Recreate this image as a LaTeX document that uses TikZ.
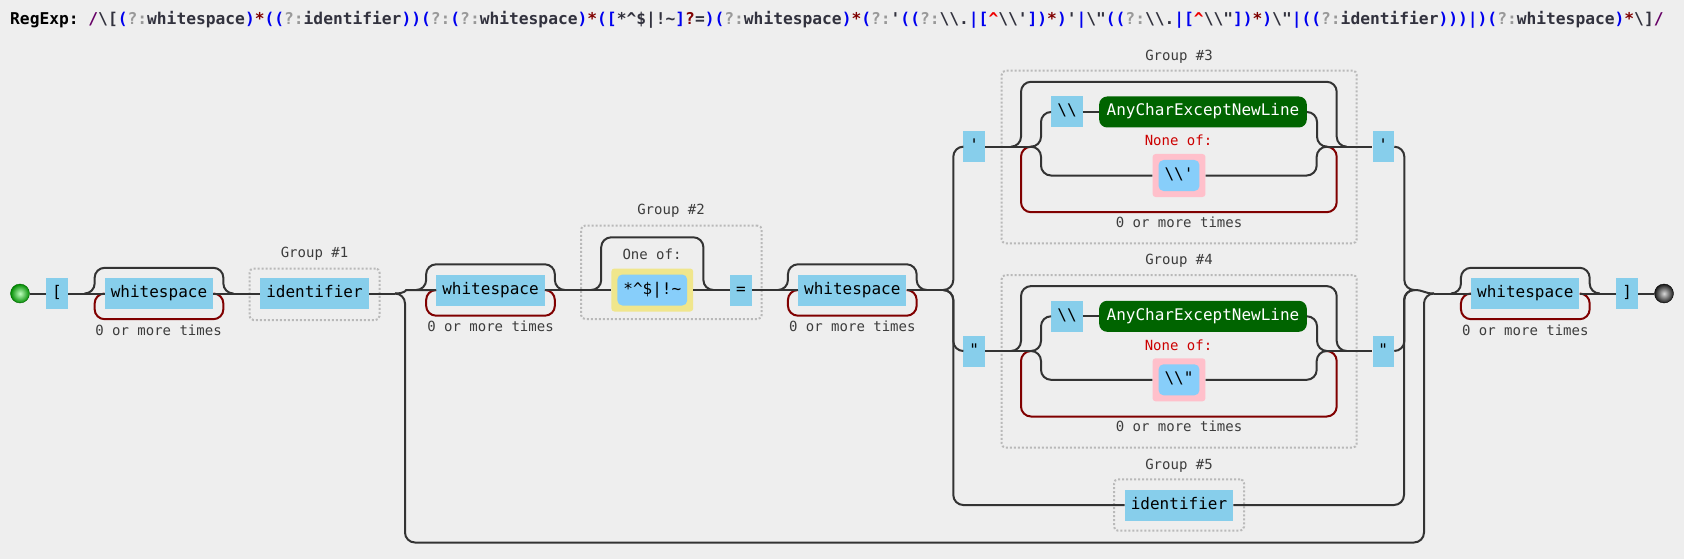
\documentclass[tikz,border=0pt]{standalone}
\usepackage{fontspec}
\setmonofont{DejaVu Sans Mono}
\usetikzlibrary{fit}

\definecolor{canvas}{RGB}{238,238,238}
\definecolor{railcol}{RGB}{51,51,51}
\definecolor{loopcol}{RGB}{128,0,0}
\definecolor{litcol}{RGB}{135,206,235}
\definecolor{setcol}{RGB}{135,206,250}
\definecolor{oneofcol}{RGB}{240,230,140}
\definecolor{noneofcol}{RGB}{255,192,203}
\definecolor{anycol}{RGB}{0,100,0}
\definecolor{grpcol}{RGB}{185,185,185}
\definecolor{lblcol}{RGB}{60,60,60}
\definecolor{nonecol}{RGB}{204,0,0}
\definecolor{rxslash}{RGB}{102,0,102}
\definecolor{rxparen}{RGB}{0,0,238}
\definecolor{rxgray}{RGB}{153,153,153}
\definecolor{rxquant}{RGB}{128,0,0}
\definecolor{rxcaret}{RGB}{238,0,0}
\definecolor{rxtext}{RGB}{50,50,62}

\newcommand\rxS[1]{\textcolor{rxslash}{#1}}
\newcommand\rxP[1]{\textcolor{rxparen}{#1}}
\newcommand\rxN[1]{\textcolor{rxgray}{#1}}
\newcommand\rxQ[1]{\textcolor{rxquant}{#1}}
\newcommand\rxC[1]{\textcolor{rxcaret}{#1}}
\newcommand\rxB{\textbackslash}

\begin{document}
\begin{tikzpicture}[x=1pt, y=-1pt,
    font=\ttfamily\fontsize{16}{19}\selectfont,
    rail/.style={draw=railcol, line width=2pt, rounded corners=10pt},
    backrail/.style={draw=loopcol, line width=2pt, rounded corners=10pt},
    literal/.style={fill=litcol, inner xsep=6pt, inner ysep=0pt, minimum height=31pt,
      text height=11.5pt, text depth=3.5pt},
    anychar/.style={literal, fill=anycol, text=white, rounded corners=8pt, inner xsep=7.5pt},
    setbox/.style={literal, fill=setcol, rounded corners=5pt},
    setback/.style={literal, fill=#1, rounded corners=3pt, inner xsep=12pt, minimum height=43pt},
    groupbox/.style={draw=grpcol, dotted, line width=2pt, rounded corners=4pt, inner sep=0pt},
    small/.style={font=\ttfamily\fontsize{14}{17}\selectfont, text=lblcol, inner sep=0pt,
      text height=10pt, text depth=3pt},
    railend/.style={circle, minimum size=19pt, inner sep=0pt}
  ]
  % Background
  \fill[canvas] (0,0) rectangle (1684,559);

  % Title
  \node[anchor=base west, inner sep=0pt, text=rxtext,
    font=\ttfamily\bfseries\fontsize{16.25}{19}\selectfont] (title) at (10,25) {%
    \textcolor{black}{RegExp:} \rxS{/}\rxB[%
    \rxP{(}\rxN{?:}whitespace\rxP{)}\rxQ{*}%
    \rxP{((}\rxN{?:}identifier\rxP{))}%
    \rxP{(}\rxN{?:}%
    \rxP{(}\rxN{?:}whitespace\rxP{)}\rxQ{*}%
    \rxP{([}*\textasciicircum\$|!\textasciitilde\rxP{]}\rxQ{?}=\rxP{)}%
    \rxP{(}\rxN{?:}whitespace\rxP{)}\rxQ{*}%
    \rxP{(}\rxN{?:}\textquotesingle\rxP{((}\rxN{?:}\rxB\rxB.\rxP{|[}\rxC{\textasciicircum}\rxB\rxB\textquotesingle\rxP{])}\rxQ{*}\rxP{)}\textquotesingle%
    \rxP{|}\rxB"\rxP{((}\rxN{?:}\rxB\rxB.\rxP{|[}\rxC{\textasciicircum}\rxB\rxB"\rxP{])}\rxQ{*}\rxP{)}\rxB"%
    \rxP{|((}\rxN{?:}identifier\rxP{)))|)}%
    \rxP{(}\rxN{?:}whitespace\rxP{)}\rxQ{*}\rxB]\rxS{/}};

  % Boxes on the rail
  \node[railend, draw=green!40!black, inner color=green!25!white, outer color=green!55!black] (start) at (20,293.5) {};
  \node[literal] (lbrack) at (57,293.5) {[};
  \node[literal] (ws1) at (159,293.5) {whitespace};
  \node[literal] (id1) at (314.5,293.5) {identifier};
  \node[literal] (ws2) at (490.5,290) {whitespace};
  \node[setback=oneofcol] (set1bg) at (652.3,290) {\phantom{*\textasciicircum\$|!\textasciitilde}};
  \node[setbox] (set1) at (652.3,290) {*\textasciicircum\$|!\textasciitilde};
  \node[literal] (eq) at (741,290) {=};
  \node[literal] (ws3) at (852.3,290) {whitespace};
  % single quoted string
  \node[literal] (sq1) at (974.3,146.7) {\textquotesingle};
  \node[literal] (esc1) at (1067,112) {\textbackslash\textbackslash};
  \node[anychar] (any1) at (1203,112) {AnyCharExceptNewLine};
  \node[setback=noneofcol] (neg1bg) at (1179,175.5) {\phantom{\textbackslash\textbackslash\textquotesingle}};
  \node[setbox] (neg1) at (1179,175.5) {\textbackslash\textbackslash\textquotesingle};
  \node[literal] (sq2) at (1383.3,146.7) {\textquotesingle};
  % double quoted string
  \node[literal] (dq1) at (974.3,351) {"};
  \node[literal] (esc2) at (1067,316.3) {\textbackslash\textbackslash};
  \node[anychar] (any2) at (1203,316.3) {AnyCharExceptNewLine};
  \node[setback=noneofcol] (neg2bg) at (1179,379.8) {\phantom{\textbackslash\textbackslash"}};
  \node[setbox] (neg2) at (1179,379.8) {\textbackslash\textbackslash"};
  \node[literal] (dq2) at (1383.3,351) {"};
  % bare identifier
  \node[literal] (id2) at (1179,505) {identifier};
  \node[literal] (ws4) at (1525.3,293.5) {whitespace};
  \node[literal] (rbrack) at (1627.2,293.5) {]};
  \node[railend, draw=black, inner color=gray!30!white, outer color=black!90] (finish) at (1664,293.5) {};

  % Fork points
  \coordinate (optL) at (395,293.5);
  \coordinate (optR) at (1434,293.5);
  \coordinate (optlow) at (900,542.5);
  \coordinate (strL) at (943.3,290);
  \coordinate (strR) at (1414,290);
  \coordinate (sq1L) at (1031,146.7);
  \coordinate (sq1R) at (1326.7,146.7);
  \coordinate (dq1L) at (1031,351);
  \coordinate (dq1R) at (1326.7,351);

  % Groups
  \node[groupbox, fit={(249.5,268.5) (379.5,320)}] (grp1) {};
  \node[groupbox, fit={(581,225.7) (761.7,319)}] (grp2) {};
  \node[groupbox, fit={(1001.7,70.7) (1356.7,243.3)}] (grp3) {};
  \node[groupbox, fit={(1001.7,275) (1356.7,447.6)}] (grp4) {};
  \node[groupbox, fit={(1114,479.3) (1244,530.7)}] (grp5) {};

  % Labels
  \node[small] (g1lbl) at (314.5,254) {Group \#1};
  \node[small] (g2lbl) at (671,211) {Group \#2};
  \node[small] (g3lbl) at (1179,56.7) {Group \#3};
  \node[small] (g4lbl) at (1179,261) {Group \#4};
  \node[small] (g5lbl) at (1179,466) {Group \#5};
  \node[small] (oneof1) at (652,256) {One of:};
  \node[small, text=nonecol] (noneof1) at (1178.5,142.3) {None of:};
  \node[small, text=nonecol] (noneof2) at (1178.5,346.6) {None of:};
  \node[small] (rep1) at (158.5,331.5) {0 or more times};
  \node[small] (rep2) at (490.5,327.7) {0 or more times};
  \node[small] (rep3) at (852.3,327.7) {0 or more times};
  \node[small] (rep4) at (1179,224) {0 or more times};
  \node[small] (rep5) at (1179,428.3) {0 or more times};
  \node[small] (rep6) at (1525.3,331.7) {0 or more times};

  % Loops back (0 or more times)
  \draw[backrail] (ws1.west) -- ++(-10,0) |- ([yshift=-10pt]ws1.south) -| ([xshift=10pt]ws1.east) -- (ws1.east);
  \draw[backrail] (ws2.west) -- ++(-10,0) |- ([yshift=-10pt]ws2.south) -| ([xshift=10pt]ws2.east) -- (ws2.east);
  \draw[backrail] (ws3.west) -- ++(-10,0) |- ([yshift=-10pt]ws3.south) -| ([xshift=10pt]ws3.east) -- (ws3.east);
  \draw[backrail] (ws4.west) -- ++(-10,0) |- ([yshift=-10pt]ws4.south) -| ([xshift=10pt]ws4.east) -- (ws4.east);
  \draw[backrail] (sq1L) -- ++(-10,0) |- ([yshift=-15pt]neg1bg.south) -| ([xshift=10pt]sq1R) -- (sq1R);
  \draw[backrail] (dq1L) -- ++(-10,0) |- ([yshift=-15pt]neg2bg.south) -| ([xshift=10pt]dq1R) -- (dq1R);

  % Skips over
  \draw[rail] ([xshift=-20pt]ws1.west) -- ++(10,0) |- ([yshift=10pt]ws1.north) -| ([xshift=10pt]ws1.east) -- ++(10,0);
  \draw[rail] ([xshift=-20pt]ws2.west) -- ++(10,0) |- ([yshift=10pt]ws2.north) -| ([xshift=10pt]ws2.east) -- ++(10,0);
  \draw[rail] ([xshift=-20pt]ws3.west) -- ++(10,0) |- ([yshift=10pt]ws3.north) -| ([xshift=10pt]ws3.east) -- ++(10,0);
  \draw[rail] ([xshift=-20pt]ws4.west) -- ++(10,0) |- ([yshift=10pt]ws4.north) -| ([xshift=10pt]ws4.east) -- ++(10,0);
  \draw[rail] ([xshift=-20pt]set1bg.west) -- ++(10,0) |- ([yshift=31pt]set1bg.north) -| ([xshift=10pt]set1bg.east) -- ++(10,0);
  \draw[rail] ([xshift=-20pt]sq1L) -- ++(10,0) |- ([yshift=14.5pt]any1.north) -| ([xshift=10pt]sq1R) -- ++(10,0);
  \draw[rail] ([xshift=-20pt]dq1L) -- ++(10,0) |- ([yshift=14.5pt]any2.north) -| ([xshift=10pt]dq1R) -- ++(10,0);

  % Main rail
  \draw[rail] (start) -- (lbrack);
  \draw[rail] (lbrack) -- (ws1);
  \draw[rail] (ws1) -- (id1);
  \draw[rail] (id1) -- (optL);
  \draw[rail] (optL) .. controls +(10,0) and +(-10,0) .. ([xshift=-20pt]ws2.west) -- (ws2.west);
  \draw[rail] (ws2) -- (set1bg);
  \draw[rail] (set1bg) -- (eq);
  \draw[rail] (eq) -- (ws3);
  \draw[rail] (ws3.east) -- (strL);
  \draw[rail] (strL) -- ++(10,0) |- (sq1.west);          % '...'
  \draw[rail] (strL) -- ++(10,0) |- (dq1.west);          % "..."
  \draw[rail] (strL) -- ++(10,0) |- (id2.west);          % identifier
  \draw[rail] (sq1) -- (sq1L);
  \draw[rail] (sq1L) -- ++(10,0) |- (esc1.west);
  \draw[rail] (esc1) -- (any1);
  \draw[rail] (any1.east) -- ++(10,0) |- (sq1R);
  \draw[rail] (sq1L) -- ++(10,0) |- (neg1bg.west);
  \draw[rail] (neg1bg.east) -| ([xshift=-10pt]sq1R) -- (sq1R);
  \draw[rail] (sq1R) -- (sq2);
  \draw[rail] (dq1) -- (dq1L);
  \draw[rail] (dq1L) -- ++(10,0) |- (esc2.west);
  \draw[rail] (esc2) -- (any2);
  \draw[rail] (any2.east) -- ++(10,0) |- (dq1R);
  \draw[rail] (dq1L) -- ++(10,0) |- (neg2bg.west);
  \draw[rail] (neg2bg.east) -| ([xshift=-10pt]dq1R) -- (dq1R);
  \draw[rail] (dq1R) -- (dq2);
  \draw[rail] (sq2.east) -- ++(10,0) |- (strR);
  \draw[rail] (dq2.east) -- ++(10,0) |- (strR);
  \draw[rail] (id2.east) -| ([xshift=-10pt]strR) -- (strR);
  \draw[rail] (strR) .. controls +(10,0) and +(-10,0) .. (optR);
  \draw[rail] (optL) -- ++(10,0) |- (optlow) -| ([xshift=-10pt]optR) -- (optR);   % empty branch
  \draw[rail] (optR) -- (ws4);
  \draw[rail] (ws4) -- (rbrack);
  \draw[rail] (rbrack) -- (finish);
\end{tikzpicture}
\end{document}
